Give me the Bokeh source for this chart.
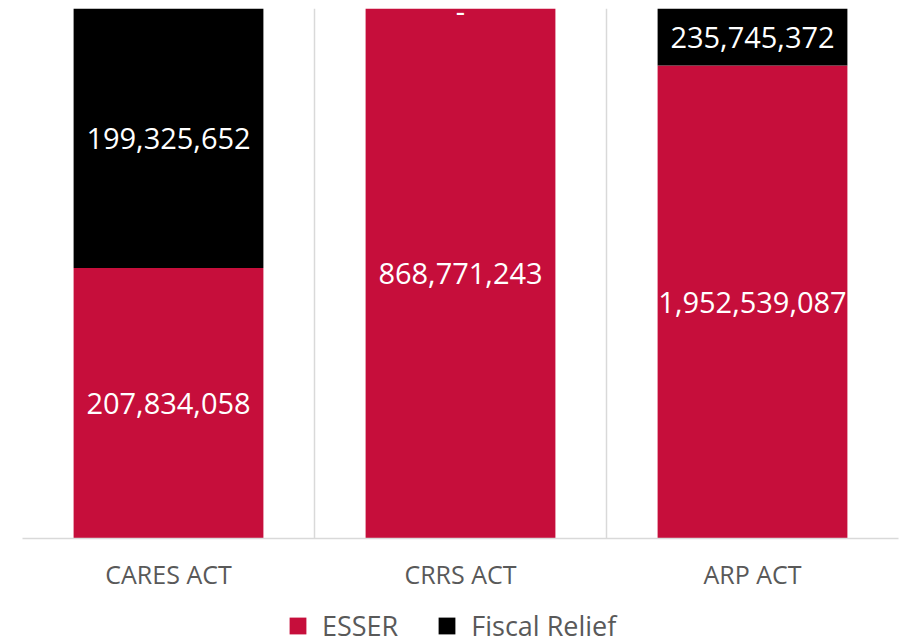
from bokeh.plotting import figure
from bokeh.layouts import column
from bokeh.models import (ColumnDataSource, FixedTicker, Legend, LegendItem, Range1d)
from bokeh.core.properties import value
from bokeh.embed import file_html
from bokeh.resources import INLINE

# ---- data ----
acts = ["CARES ACT", "CRRS ACT", "ARP ACT"]
esser = [207834058, 868771243, 1952539087]
fiscal_relief = [199325652, 0, 235745372]
series_names = ["ESSER", "Fiscal Relief"]

RED = "#C60E3B"
BLACK = "#000000"
GRAY_TXT = "#595959"
GRID = "#D9D9D9"

xs = [i + 0.5 for i in range(len(acts))]
totals = [e + f for e, f in zip(esser, fiscal_relief)]
esser_frac = [e / t for e, t in zip(esser, totals)]
fiscal_frac = [f / t for f, t in zip(fiscal_relief, totals)]

def fmt(v):
    return "-" if v == 0 else f"{v:,}"

src = ColumnDataSource(dict(x=xs, esser=esser_frac, fiscal=fiscal_frac))

p = figure(width=902, height=602, output_backend="svg", toolbar_location=None,
           x_range=Range1d(0, len(acts)), y_range=Range1d(0, 1),
           min_border_left=22, min_border_right=4, min_border_top=8,
           min_border_bottom=64)
p.outline_line_color = None
p.background_fill_color = "white"
p.border_fill_color = "white"

rs = p.vbar_stack(["esser", "fiscal"], x="x", width=0.65, source=src,
                  color=[RED, BLACK], line_color=None)

# data labels
lab_x, lab_y, lab_t = [], [], []
for i in range(len(acts)):
    lab_x.append(xs[i]); lab_y.append(esser_frac[i] / 2); lab_t.append(fmt(esser[i]))
    lab_x.append(xs[i]); lab_y.append(esser_frac[i] + fiscal_frac[i] / 2); lab_t.append(fmt(fiscal_relief[i]))
lab_off = [3 if t == "-" else 0 for t in lab_t]
lsrc = ColumnDataSource(dict(x=lab_x, y=lab_y, t=lab_t, off=lab_off))
p.text(x="x", y="y", text="t", source=lsrc, text_align="center",
       text_baseline="middle", text_color="white", y_offset="off",
       text_font=value("Open Sans"), text_font_size="29px")

# axes
p.yaxis.visible = False
p.ygrid.grid_line_color = None
p.xgrid.ticker = FixedTicker(ticks=list(range(len(acts) + 1)))
p.xgrid.grid_line_color = GRID
p.xgrid.grid_line_width = 1.5

xa = p.xaxis[0]
xa.ticker = FixedTicker(ticks=xs)
xa.major_label_overrides = {x: a for x, a in zip(xs, acts)}
xa.axis_line_color = GRID
xa.axis_line_width = 1.5
xa.major_tick_line_color = None
xa.minor_tick_line_color = None
xa.major_tick_out = 0
xa.minor_tick_out = 0
xa.major_label_text_color = GRAY_TXT
xa.major_label_text_font = "Open Sans"
xa.major_label_text_font_size = "25px"
xa.major_label_standoff = 18

# legend strip (same series, drawn off-range so only the legend shows)
pl = figure(width=902, height=42, output_backend="svg", toolbar_location=None,
            x_range=Range1d(0, len(acts)), y_range=Range1d(5, 6),
            min_border_left=0, min_border_right=0, min_border_top=0,
            min_border_bottom=0)
pl.outline_line_color = None
pl.axis.visible = False
pl.grid.grid_line_color = None
rl = pl.vbar_stack(["esser", "fiscal"], x="x", width=0.65, source=src,
                   color=[RED, BLACK], line_color=None)
legend = Legend(items=[LegendItem(label=series_names[0], renderers=[rl[0]]),
                       LegendItem(label=series_names[1], renderers=[rl[1]])],
                orientation="horizontal", location=(265, 0),
                margin=0, padding=0, spacing=38, label_standoff=14,
                glyph_width=21, glyph_height=21,
                label_text_font="Open Sans", label_text_font_size="27px",
                label_text_color=GRAY_TXT, border_line_color=None,
                background_fill_alpha=0)
pl.add_layout(legend, "center")

layout = column(p, pl, spacing=0)
open("out.html", "w").write(file_html(layout, INLINE))
